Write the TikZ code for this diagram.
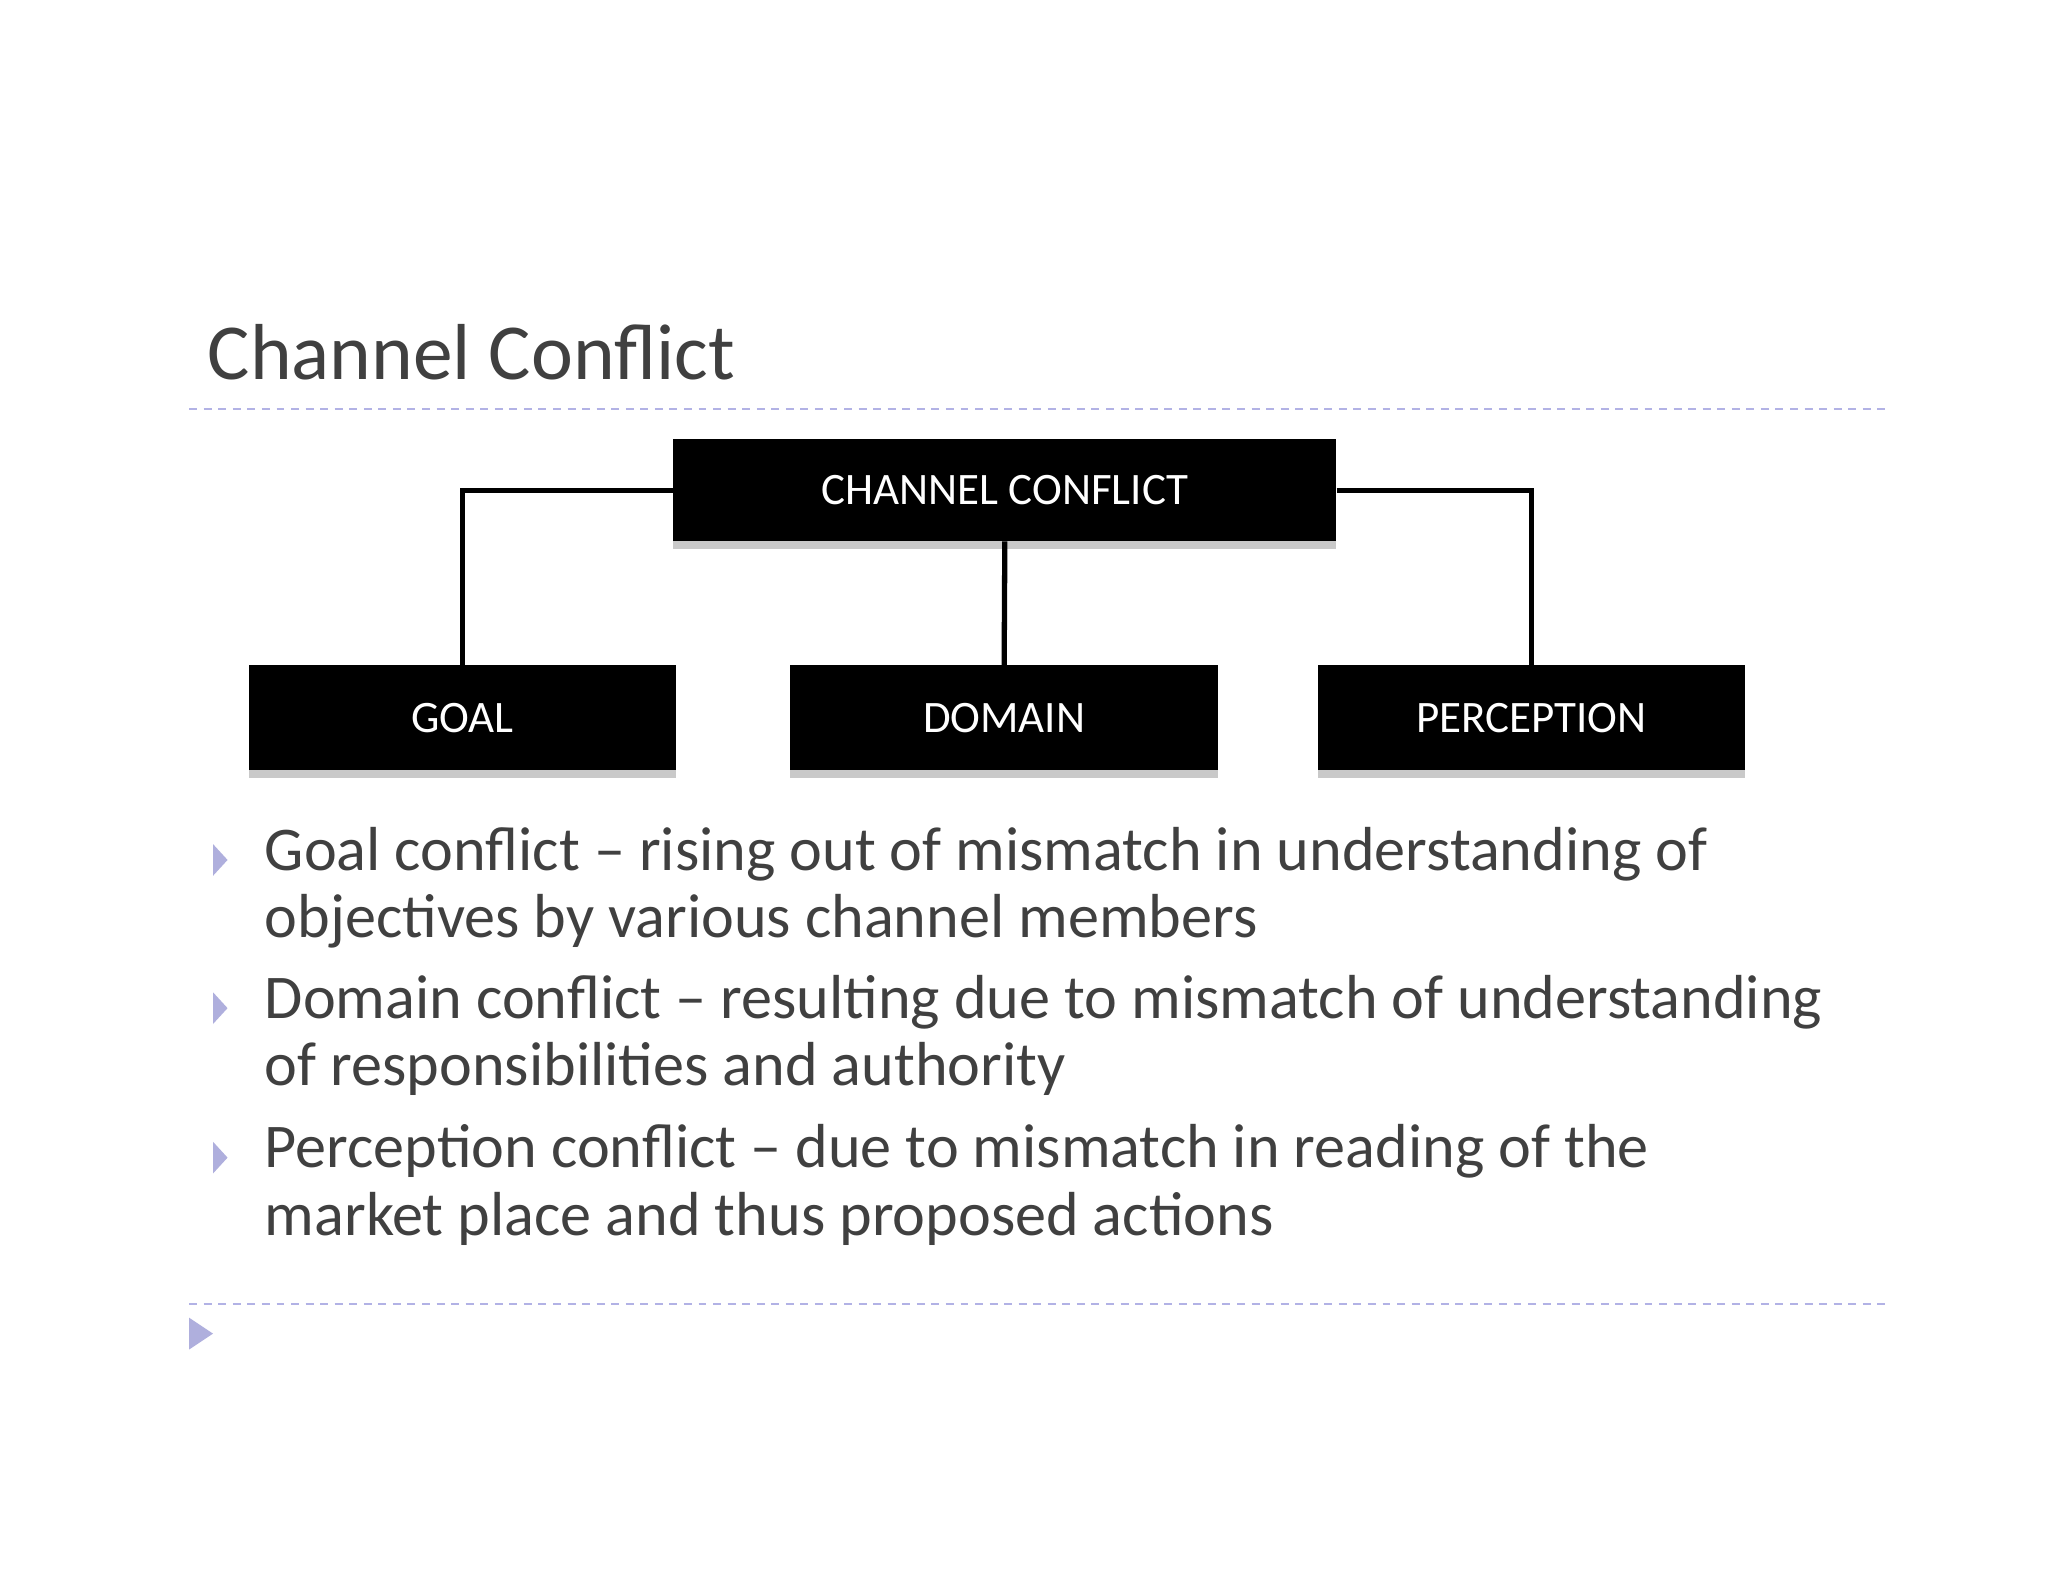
\documentclass[tikz,border=0pt]{standalone}
\usepackage{fontspec}
\setmainfont{Carlito}
\usetikzlibrary{shadows}
\begin{document}
\begin{tikzpicture}[x=1pt,y=-1pt,
 box/.style={fill=black,text=white,inner sep=0pt,font=\fontsize{34}{40}\selectfont,
   drop shadow={shadow xshift=0pt,shadow yshift=-6pt,fill=black!35,opacity=.6}},
 conn/.style={line width=4pt},
 sepline/.style={draw=gray!50!blue!40,line width=1.5pt,dash pattern=on 6pt off 5pt},
 bt/.style={text=black!75,anchor=north west,align=left,font=\fontsize{47}{51}\selectfont,inner sep=0pt},
 tri/.style={fill=gray!60!blue!45}]
\useasboundingbox (0,0) rectangle (1548,1196);
\fill[white] (0,0) rectangle (1548,1196);
\node[anchor=base west,inner sep=0pt,text=black!75,font=\fontsize{60}{66}\selectfont] (title) at (157,287) {Channel Conflict};
\draw[sepline] (143,309) -- (1425,309);
\draw[sepline] (143,986) -- (1425,986);
\node[box,minimum width=501pt,minimum height=77pt] (cc) at (759.5,370.5) {CHANNEL CONFLICT};
\node[box,minimum width=323pt,minimum height=79pt] (goal) at (349.5,542.5) {GOAL};
\node[box,minimum width=324pt,minimum height=79pt] (dom) at (759,542.5) {DOMAIN};
\node[box,minimum width=323pt,minimum height=79pt] (per) at (1157.5,542.5) {PERCEPTION};
\draw[conn] (cc.west) -| (goal.north);
\draw[conn] (cc.south) -- (dom.north);
\draw[conn] (cc.east) -| (per.north);
\foreach \y in {650,762,875}{
 \fill[tri] (161,\y-12) -- (172,\y) -- (161,\y+12) -- cycle;
}
\node[bt] (t1) at (200,625) {Goal conflict -- rising out of mismatch in understanding of\\objectives by various channel members};
\node[bt] (t2) at (200,737) {Domain conflict -- resulting due to mismatch of understanding\\of responsibilities and authority};
\node[bt] (t3) at (200,850) {Perception conflict -- due to mismatch in reading of the\\market place and thus proposed actions};
\fill[tri] (143,996) -- (161,1008) -- (143,1020) -- cycle;
\end{tikzpicture}
\end{document}
